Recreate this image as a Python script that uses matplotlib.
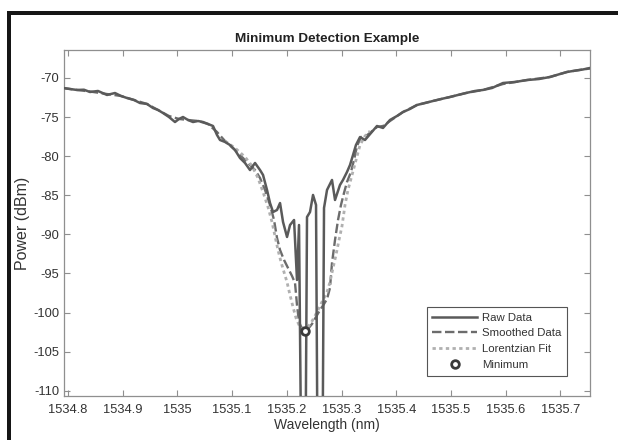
import matplotlib
matplotlib.use("Agg")
import matplotlib.pyplot as plt
from matplotlib.patches import Rectangle
from matplotlib.ticker import FuncFormatter

plt.rcParams['font.family'] = ['Liberation Sans', 'DejaVu Sans']
plt.rcParams['axes.unicode_minus'] = False

# ---------------- data ----------------
raw_x = [1534.7909, 1534.8037, 1534.8165, 1534.8292, 1534.8402, 1534.8548, 1534.8713, 1534.8859,
         1534.8969, 1534.9079, 1534.9206, 1534.9316, 1534.9444, 1534.9554, 1534.9645, 1534.9737,
         1534.9846, 1534.9956, 1535.0029, 1535.0102, 1535.0194, 1535.0285, 1535.0376, 1535.0468,
         1535.0559, 1535.0651, 1535.0724, 1535.0779, 1535.0870, 1535.0961, 1535.1053, 1535.1144,
         1535.1236, 1535.1327, 1535.1419, 1535.1510, 1535.1565, 1535.1638, 1535.1693, 1535.1748,
         1535.1821, 1535.1876, 1535.1931, 1535.2004, 1535.2059, 1535.2132, 1535.2186, 1535.2223,
         1535.2278, 1535.2332, 1535.2369, 1535.2424, 1535.2479, 1535.2534, 1535.2570, 1535.2643,
         1535.2680, 1535.2735, 1535.2826, 1535.2881, 1535.2972, 1535.3027, 1535.3100, 1535.3155,
         1535.3210, 1535.3264, 1535.3338, 1535.3429, 1535.3539, 1535.3648, 1535.3758, 1535.3886,
         1535.4014, 1535.4124, 1535.4251, 1535.4380, 1535.4526, 1535.4672, 1535.4818, 1535.4983,
         1535.5129, 1535.5275, 1535.5440, 1535.5586, 1535.5751, 1535.5952, 1535.6171, 1535.6391,
         1535.6610, 1535.6811, 1535.6994, 1535.7122, 1535.7286, 1535.7414, 1535.7542]
raw_y = [-71.28, -71.41, -71.53, -71.50, -71.79, -71.66, -72.17, -71.92,
         -72.30, -72.56, -72.81, -73.20, -73.32, -73.84, -74.09, -74.48,
         -74.99, -75.63, -75.24, -74.99, -75.37, -75.63, -75.50, -75.63,
         -75.88, -76.14, -77.29, -77.93, -78.18, -78.57, -79.21, -80.23,
         -80.87, -81.77, -80.87, -81.77, -82.40, -84.32, -85.99, -87.14,
         -86.88, -85.99, -88.42, -90.33, -88.80, -88.16, -95.83, -88.80,
         -130.0, -130.0, -87.78, -87.14, -84.96, -86.24, -130.0, -130.0,
         -86.62, -84.32, -83.04, -85.60, -83.68, -83.04, -82.02, -81.13,
         -79.85, -78.57, -77.55, -77.93, -77.03, -76.14, -76.39, -75.37,
         -74.86, -74.35, -73.96, -73.45, -73.20, -72.94, -72.69, -72.43,
         -72.17, -71.92, -71.66, -71.53, -71.28, -70.64, -70.51, -70.26,
         -70.13, -69.87, -69.49, -69.23, -69.04, -68.91, -68.72]

smooth_x = [1534.7909, 1534.8165, 1534.8402, 1534.8713, 1534.8969, 1534.9206, 1534.9444, 1534.9645,
            1534.9846, 1535.0029, 1535.0194, 1535.0376, 1535.0559, 1535.0724, 1535.0870, 1535.1053,
            1535.1236, 1535.1419, 1535.1510, 1535.1602, 1535.1693, 1535.1766, 1535.1821, 1535.1876,
            1535.1949, 1535.2022, 1535.2095, 1535.2150, 1535.2186, 1535.2223, 1535.2278, 1535.2332,
            1535.2387, 1535.2460, 1535.2533, 1535.2607, 1535.2680, 1535.2735, 1535.2789, 1535.2826,
            1535.2881, 1535.2936, 1535.2990, 1535.3045, 1535.3100, 1535.3173, 1535.3228, 1535.3283,
            1535.3356, 1535.3447, 1535.3539, 1535.3648, 1535.3758, 1535.3886, 1535.4124, 1535.4380,
            1535.4672, 1535.4983, 1535.5275, 1535.5586, 1535.5952, 1535.6391, 1535.6811, 1535.7122,
            1535.7414, 1535.7542]
smooth_y = [-71.28, -71.53, -71.73, -72.05, -72.30, -72.81, -73.32, -74.09,
            -74.86, -75.24, -75.37, -75.50, -75.88, -76.91, -78.06, -79.21,
            -80.49, -81.77, -82.79, -84.32, -86.24, -88.16, -90.46, -92.00,
            -93.27, -94.30, -95.32, -96.22, -99.03, -101.20, -102.10, -102.35,
            -102.10, -101.46, -100.56, -99.67, -98.90, -98.26, -96.85, -93.66,
            -90.72, -88.16, -86.24, -84.71, -83.30, -82.02, -80.49, -78.70,
            -77.55, -77.42, -76.91, -76.27, -76.14, -75.50, -74.35, -73.45,
            -72.94, -72.43, -71.92, -71.53, -70.77, -70.26, -69.87, -69.23,
            -68.91, -68.79]

lor_x = [1535.0870, 1535.1053, 1535.1236, 1535.1364, 1535.1473, 1535.1565, 1535.1656, 1535.1729,
         1535.1784, 1535.1839, 1535.1894, 1535.1948, 1535.2003, 1535.2058, 1535.2113, 1535.2168,
         1535.2223, 1535.2296, 1535.2369, 1535.2442, 1535.2515, 1535.2588, 1535.2661, 1535.2735,
         1535.2789, 1535.2844, 1535.2899, 1535.2954, 1535.3009, 1535.3064, 1535.3118, 1535.3192,
         1535.3265, 1535.3338, 1535.3429, 1535.3521]
lor_y = [-78.06, -78.95, -80.10, -81.25, -82.79, -84.58, -86.50, -88.41,
         -90.21, -92.00, -93.53, -94.81, -96.09, -97.75, -99.28, -100.69,
         -101.59, -101.97, -101.97, -101.33, -100.43, -99.41, -98.39, -97.37,
         -96.09, -94.30, -92.63, -90.72, -88.93, -86.24, -84.32, -82.40,
         -80.49, -78.57, -77.42, -76.78]

min_x = [1535.233]
min_y = [-102.4]

x_ticks = [1534.8, 1534.9, 1535.0, 1535.1, 1535.2, 1535.3, 1535.4, 1535.5, 1535.6, 1535.7]
y_ticks = [-110, -105, -100, -95, -90, -85, -80, -75, -70]

# ---------------- figure ----------------
fig = plt.figure(figsize=(6.18, 4.40), dpi=100)
ax = fig.add_axes([64/618, 1-396/440, (590-64)/618, (396-50)/440])

ax.plot(raw_x, raw_y, color='#5a5a5a', lw=1.8, ls='-', label='Raw Data', zorder=3)
ax.plot(smooth_x, smooth_y, color='#6c6c6c', lw=1.7, ls=(0, (4, 1.5)), label='Smoothed Data', zorder=2)
ax.plot(lor_x, lor_y, color='#b0b0b0', lw=2.0, ls=(0, (1.2, 1.2)), label='Lorentzian Fit', zorder=2)
ax.plot(min_x, min_y, ls='none', marker='o', ms=5.5, mfc='white', mec='#3a3a3a', mew=2.0,
        label='Minimum', zorder=4)

ax.set_xlim(1534.7927, 1535.7542)
ax.set_ylim(-110.67, -66.42)
ax.set_xticks(x_ticks)
ax.set_yticks(y_ticks)
ax.xaxis.set_major_formatter(FuncFormatter(lambda v, p: '%g' % round(v, 4)))
ax.yaxis.set_major_formatter(FuncFormatter(lambda v, p: '%g' % v))

spine_c = '#8f8f8f'
for s in ax.spines.values():
    s.set_color(spine_c)
    s.set_linewidth(0.9)
ax.tick_params(direction='in', length=4, width=0.8, color=spine_c, labelsize=9.3,
               labelcolor='#333333', top=True, right=True)
ax.tick_params(axis='x', pad=5.5)
ax.tick_params(axis='y', pad=3.5)

ax.set_title('Minimum Detection Example', fontsize=9.7, fontweight='bold', color='#222222', pad=6)
ax.set_xlabel('Wavelength (nm)', fontsize=10, color='#333333', labelpad=2)
ax.set_ylabel('Power (dBm)', fontsize=11.5, color='#333333', labelpad=2)

leg = ax.legend(loc='lower right', bbox_to_anchor=(0.9563, 0.0578), fontsize=8.2, frameon=True,
                fancybox=False, framealpha=1, edgecolor='#555555', handlelength=3.9,
                handletextpad=0.45, labelspacing=0.52, borderpad=0.5, borderaxespad=0)
leg.get_frame().set_linewidth(0.8)
for t in leg.get_texts():
    t.set_color('#333333')

# dark frame around the image
fig.add_artist(Rectangle((7/618, 1-15/440), 1-7/618, 4/440, transform=fig.transFigure,
                         color='#161616', lw=0))
fig.add_artist(Rectangle((7/618, 0), 4/618, 1-11/440, transform=fig.transFigure,
                         color='#161616', lw=0))

fig.savefig('out.png', dpi=100)
